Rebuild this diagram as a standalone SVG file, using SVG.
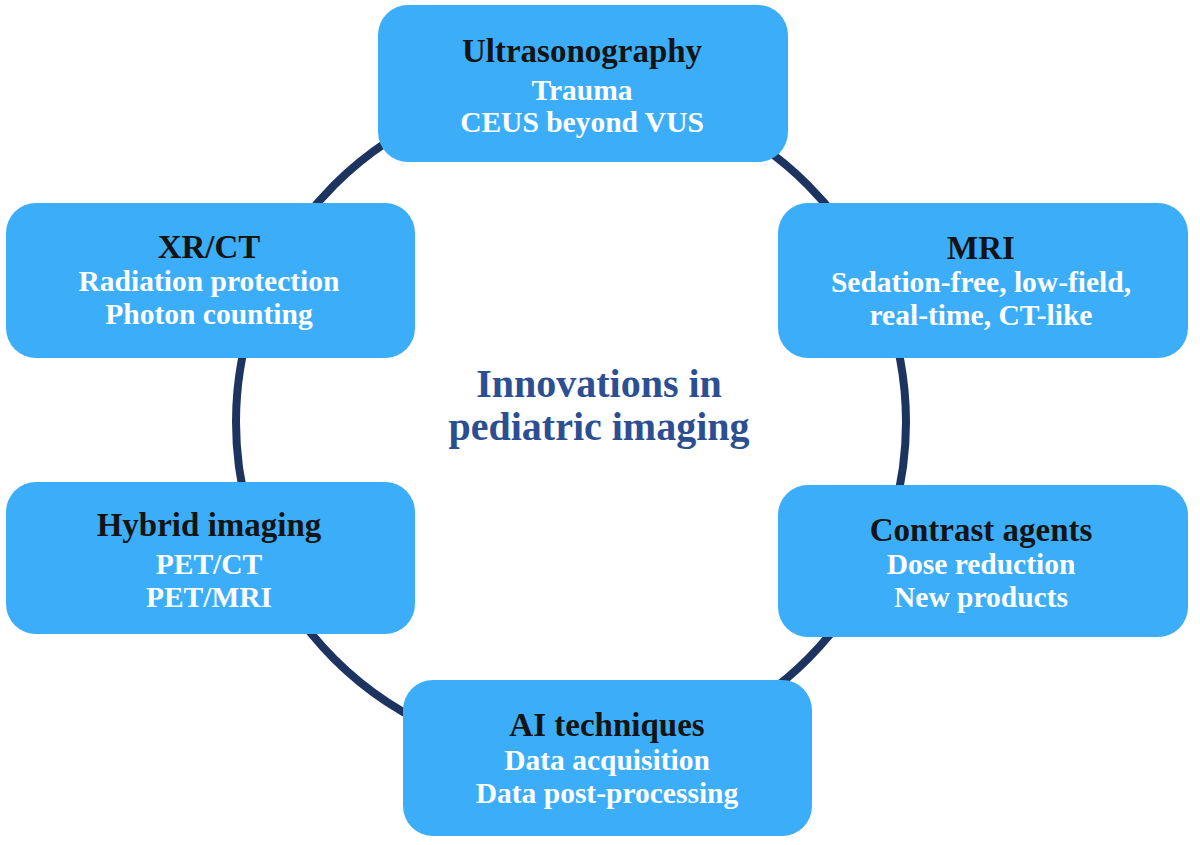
<svg xmlns="http://www.w3.org/2000/svg" width="1200" height="845" viewBox="0 0 1200 845">
<style>
.box{fill:#3caef9;}
.ring{fill:none;stroke:#1d3461;stroke-width:8;}
text{font-family:"Liberation Serif","Times New Roman",serif;font-weight:bold;text-anchor:middle;}
.t{font-size:33px;fill:#141414;}
.s{font-size:29.5px;fill:#ffffff;}
.c{font-size:40px;fill:#2b4f92;}
</style>
<rect width="1200" height="845" fill="#ffffff"/>
<g id="connectors">
<circle class="ring" cx="571" cy="422" r="335"/>
</g>
<g id="center">
<text class="c" x="599" y="397">Innovations in</text>
<text class="c" x="599" y="440">pediatric imaging</text>
</g>
<g id="ultrasonography">
<rect class="box" x="378" y="5" width="410" height="157" rx="30"/>
<text class="t" x="582" y="62">Ultrasonography</text>
<text class="s" x="582" y="100">Trauma</text>
<text class="s" x="582" y="132">CEUS beyond VUS</text>
</g>
<g id="mri">
<rect class="box" x="778" y="203" width="410" height="155" rx="30"/>
<text class="t" x="981" y="259">MRI</text>
<text class="s" x="981" y="292">Sedation-free, low-field,</text>
<text class="s" x="981" y="325">real-time, CT-like</text>
</g>
<g id="contrast-agents">
<rect class="box" x="778" y="485" width="410" height="152" rx="30"/>
<text class="t" x="981" y="541">Contrast agents</text>
<text class="s" x="981" y="574">Dose reduction</text>
<text class="s" x="981" y="607">New products</text>
</g>
<g id="ai-techniques">
<rect class="box" x="403" y="680" width="409" height="156" rx="30"/>
<text class="t" x="607" y="736">AI techniques</text>
<text class="s" x="607" y="770">Data acquisition</text>
<text class="s" x="607" y="803">Data post-processing</text>
</g>
<g id="hybrid-imaging">
<rect class="box" x="6" y="482" width="409" height="152" rx="30"/>
<text class="t" x="209" y="536">Hybrid imaging</text>
<text class="s" x="209" y="574">PET/CT</text>
<text class="s" x="209" y="607">PET/MRI</text>
</g>
<g id="xr-ct">
<rect class="box" x="6" y="203" width="409" height="155" rx="30"/>
<text class="t" x="209" y="258">XR/CT</text>
<text class="s" x="209" y="291">Radiation protection</text>
<text class="s" x="209" y="324">Photon counting</text>
</g>
</svg>
